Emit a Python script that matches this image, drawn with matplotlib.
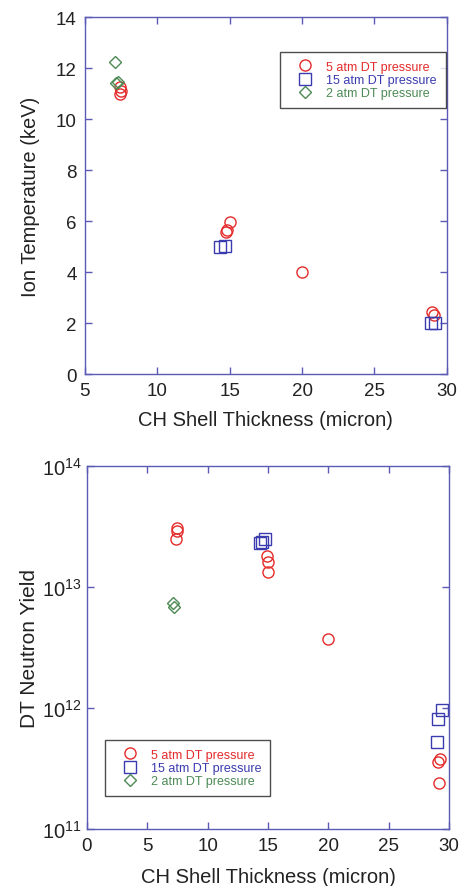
import matplotlib
matplotlib.use("Agg")
import matplotlib.pyplot as plt
from matplotlib.ticker import LogLocator, NullLocator

plt.rcParams['font.family'] = ['Liberation Sans', 'DejaVu Sans']

# ---- Ion temperature data (top panel) ----
t5_x = [7.45, 7.5, 7.4, 15.0, 14.8, 14.75, 20.0, 29.0, 29.1]
t5_y = [11.0, 11.1, 11.25, 5.95, 5.65, 5.55, 4.0, 2.45, 2.3]
t15_x = [14.3, 14.7, 28.9, 29.2]
t15_y = [4.98, 5.02, 2.02, 2.0]
t2_x = [7.07, 7.26, 7.15]
t2_y = [12.24, 11.44, 11.4]

# ---- Neutron yield data (bottom panel) ----
y5_x = [7.42, 7.45, 7.38, 14.9, 15.0, 15.0, 20.0, 29.25, 29.1, 29.2]
y5_y = [3.1e13, 2.9e13, 2.5e13, 1.8e13, 1.6e13, 1.32e13, 3.7e12, 3.8e11, 3.6e11, 2.4e11]
y15_x = [14.47, 14.75, 14.3, 29.4, 29.1, 29.0]
y15_y = [2.35e13, 2.5e13, 2.3e13, 9.6e11, 8.1e11, 5.2e11]
y2_x = [7.15, 7.25]
y2_y = [7.4e12, 6.8e12]

labels = ["5 atm DT pressure", "15 atm DT pressure", "2 atm DT pressure"]
c_red, c_blue, c_green = "#e42a2a", "#3b3bb0", "#4d8a55"
spine_c = "#5b5bb5"
txt_c = "#222222"

fig = plt.figure(figsize=(4.64, 8.87), dpi=100)
ax1 = fig.add_axes([0.183, 0.5772, 0.780, 0.4025])
ax2 = fig.add_axes([0.1875, 0.0643, 0.7802, 0.4092])

ms = 8
ax1.plot(t5_x, t5_y, 'o', mfc='none', mec=c_red, ms=ms, mew=1.0, label=labels[0])
ax1.plot(t15_x, t15_y, 's', mfc='none', mec=c_blue, ms=ms, mew=1.0, label=labels[1])
ax1.plot(t2_x, t2_y, 'D', mfc='none', mec=c_green, ms=6.5, mew=1.0, label=labels[2])
ax1.set_xlim(5, 30)
ax1.set_ylim(0, 14)
ax1.set_xticks([5, 10, 15, 20, 25, 30])
ax1.set_yticks([0, 2, 4, 6, 8, 10, 12, 14])
ax1.set_xlabel("CH Shell Thickness (micron)", fontsize=14.5, color=txt_c, labelpad=8)
ax1.set_ylabel("Ion Temperature (keV)", fontsize=14.5, color=txt_c, labelpad=11)

ax2.plot(y5_x, y5_y, 'o', mfc='none', mec=c_red, ms=ms, mew=1.0, label=labels[0])
ax2.plot(y15_x, y15_y, 's', mfc='none', mec=c_blue, ms=ms, mew=1.0, label=labels[1])
ax2.plot(y2_x, y2_y, 'D', mfc='none', mec=c_green, ms=6.5, mew=1.0, label=labels[2])
ax2.set_yscale('log')
ax2.set_xlim(0, 30)
ax2.set_ylim(1e11, 1e14)
ax2.set_xticks([0, 5, 10, 15, 20, 25, 30])
ax2.yaxis.set_major_locator(LogLocator(base=10, numticks=10))
ax2.yaxis.set_minor_locator(NullLocator())
ax2.set_xlabel("CH Shell Thickness (micron)", fontsize=14.5, color=txt_c, labelpad=9)
ax2.set_ylabel("DT Neutron Yield", fontsize=15, color=txt_c, labelpad=2)

for ax in (ax1, ax2):
    for s in ax.spines.values():
        s.set_color(spine_c)
        s.set_linewidth(1.0)
    ax.tick_params(direction='in', top=True, right=True, length=5, color=spine_c,
                   labelsize=13.5, labelcolor=txt_c, width=1.0)
    ax.tick_params(axis='x', pad=6)
    ax.tick_params(axis='y', pad=6)
    ax.tick_params(which='minor', length=0)
ax2.tick_params(axis='y', labelsize=14.5, pad=4)

leg_kw = dict(fontsize=9, frameon=True, fancybox=False, edgecolor='#222222',
              handletextpad=0.38, borderpad=0.7, labelspacing=0.1,
              handlelength=2.6, borderaxespad=0)
leg1 = ax1.legend(loc='upper right', bbox_to_anchor=(0.997, 0.902), **leg_kw)
leg2 = ax2.legend(loc='lower left', bbox_to_anchor=(0.0497, 0.091), **leg_kw)
for leg in (leg1, leg2):
    leg.get_frame().set_linewidth(1.0)
    for txt, c in zip(leg.get_texts(), [c_red, c_blue, c_green]):
        txt.set_color(c)

fig.savefig("out.png", dpi=100)
